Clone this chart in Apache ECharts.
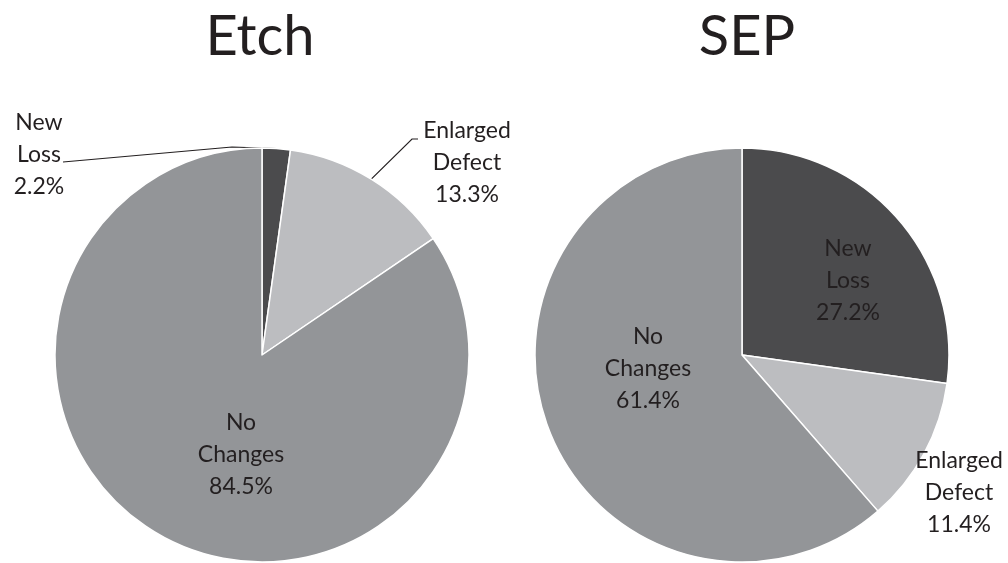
<!DOCTYPE html>
<html>
<head>
<meta charset="utf-8">
<script src="https://cdn.jsdelivr.net/npm/echarts@6/dist/echarts.min.js"></script>
<style>
  html, body { margin: 0; padding: 0; background: #fff; }
  #chart { width: 1008px; height: 563px; }
</style>
</head>
<body>
<div id="chart"></div>
<script>
// categories and values
const categories = ['New Loss', 'Enlarged Defect', 'No Changes']
const etchValues = [2.2, 13.3, 84.5]
const sepValues = [27.2, 11.4, 61.4]
const colors = ['#4b4b4d', '#bcbdc0', '#939598']

const chart = echarts.init(document.getElementById('chart'))

// where each label block sits (centre of the text), per pie, by category
const etchLabelPos = { 'New Loss': [39, 155], 'Enlarged Defect': [467, 163], 'No Changes': [241, 455] }
const sepLabelPos = { 'New Loss': [848, 281], 'Enlarged Defect': [959, 493], 'No Changes': [648, 369] }
// leader line bends / ends for the outside labels of Etch
const etchLineEnds = {
  'New Loss': [[232, 147], [63, 162]],
  'Enlarged Defect': [[412, 139], [418, 139]]
}

function makeData(values, outside) {
  return categories.map((name, i) => ({
    name: name,
    value: values[i],
    itemStyle: { color: colors[i] },
    label: { position: outside[i] ? 'outside' : 'inside' },
    labelLine: { show: outside[i] === 'line' }
  }))
}

const labelStyle = {
  show: true,
  color: '#231f20',
  fontFamily: 'Lato',
  fontSize: 23,
  lineHeight: 32,
  align: 'center',
  formatter: p => p.name.split(' ').join('\n') + '\n' + p.value.toFixed(1) + '%'
}

function layoutFor(series, pos, lineEnds) {
  return function (params) {
    const name = series.data[params.dataIndex].name
    const c = pos[name]
    const out = { x: c[0], y: c[1], align: 'center', verticalAlign: 'middle' }
    const end = lineEnds && lineEnds[name]
    if (end && params.labelLinePoints) {
      out.labelLinePoints = [params.labelLinePoints[0], end[0], end[1]]
    }
    return out
  }
}

const etchSeries = {
  type: 'pie',
  center: [262, 355],
  radius: [0, 207],
  startAngle: 90,
  clockwise: true,
  avoidLabelOverlap: false,
  itemStyle: { borderColor: '#fff', borderWidth: 1.5 },
  label: labelStyle,
  labelLine: { showAbove: true, lineStyle: { color: '#231f20', width: 1.2 } },
  data: makeData(etchValues, ['line', 'line', false])
}
etchSeries.labelLayout = layoutFor(etchSeries, etchLabelPos, etchLineEnds)

const sepSeries = {
  type: 'pie',
  center: [742, 355],
  radius: [0, 207],
  startAngle: 90,
  clockwise: true,
  avoidLabelOverlap: false,
  itemStyle: { borderColor: '#fff', borderWidth: 1.5 },
  label: labelStyle,
  labelLine: { show: false },
  data: makeData(sepValues, [false, 'plain', false])
}
sepSeries.labelLayout = layoutFor(sepSeries, sepLabelPos, null)

const option = {
  animation: false,
  backgroundColor: '#fff',
  title: [
    {
      text: 'Etch', left: 255, top: 4, textAlign: 'center',
      textStyle: { fontFamily: 'Lato', fontSize: 56, fontWeight: 'normal', color: '#231f20' }
    },
    {
      text: 'SEP', left: 742, top: 4, textAlign: 'center',
      textStyle: { fontFamily: 'Lato', fontSize: 56, fontWeight: 'normal', color: '#231f20' }
    }
  ],
  series: [etchSeries, sepSeries]
}

chart.setOption(option)
window.onresize = function () {
  chart.resize()
}
</script>
</body>
</html>
